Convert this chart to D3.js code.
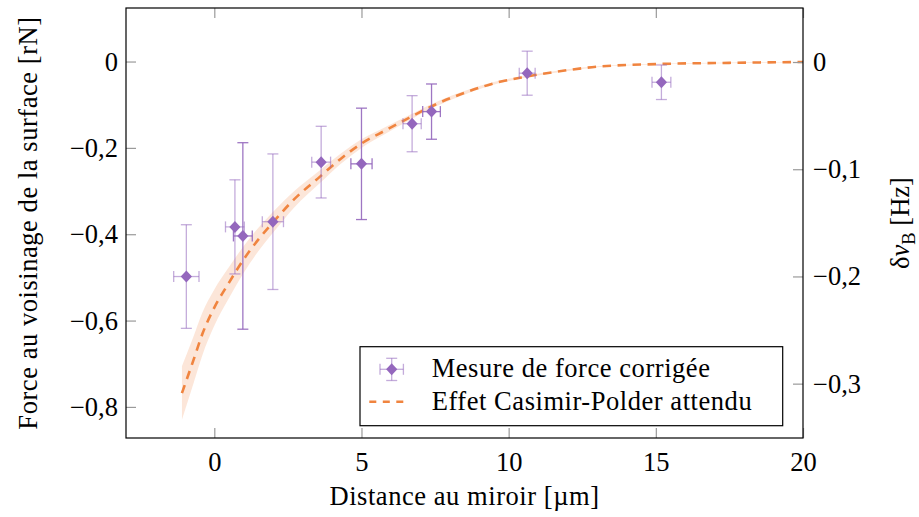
<!DOCTYPE html>
<html>
<head>
<meta charset="utf-8">
<script src="https://cdn.jsdelivr.net/npm/d3@7"></script>
<style>
  html, body { margin: 0; padding: 0; background: #fff; }
</style>
</head>
<body>
<svg id="chart" width="919" height="517"></svg>
<script>
// measured points (distance in µm, force in rN)
const distX    = [-0.95, 0.70, 0.97, 1.99, 3.63, 5.00, 6.72, 7.38, 10.63, 15.19];
const distErr  = [0.43, 0.32, 0.32, 0.36, 0.32, 0.36, 0.31, 0.30, 0.27, 0.32];
const force    = [-0.498, -0.383, -0.404, -0.371, -0.233, -0.237, -0.144, -0.116, -0.027, -0.048];
const forceErr = [0.120, 0.109, 0.216, 0.157, 0.083, 0.129, 0.065, 0.064, 0.051, 0.040];

// expected Casimir-Polder curve
const theoryX = [-1.1, -0.7, -0.4, 0, 0.5, 1, 1.5, 2, 2.7, 3.6, 4.3, 5, 5.8, 6.6, 7.5, 8.6, 9.7, 10.6, 12, 13, 15, 17.5, 20];
const theoryY = [-0.768, -0.690, -0.630, -0.570, -0.512, -0.458, -0.412, -0.372, -0.320, -0.266, -0.225, -0.190, -0.160, -0.131, -0.100, -0.070, -0.047, -0.035, -0.020, -0.012, -0.006, -0.003, -0.001];
const bandHi  = [-0.706, -0.636, -0.581, -0.528, -0.476, -0.427, -0.385, -0.348, -0.301, -0.251, -0.213, -0.180, -0.152, -0.125, -0.095, -0.066, -0.044, -0.033, -0.018, -0.011, -0.005, -0.002, -0.0005];
const bandLo  = [-0.830, -0.744, -0.679, -0.612, -0.548, -0.489, -0.439, -0.396, -0.339, -0.281, -0.237, -0.200, -0.168, -0.137, -0.105, -0.074, -0.050, -0.037, -0.022, -0.013, -0.007, -0.004, -0.0015];

// tick labels
const xTicks = [0, 5, 10, 15, 20];
const yTicksLeft = [0, -0.2, -0.4, -0.6, -0.8];
const yTicksRight = [0, -0.1, -0.2, -0.3];
const legendLabels = ["Mesure de force corrigée", "Effet Casimir-Polder attendu"];

// styling
const purple = "#9467bd";
const orange = "#f0843f";
const darkBars = [2, 5, 7];   // these error bars show stronger in the original
const fontSize = 26.5;
const spacing = 0.55;         // widen Times a bit toward Computer Modern
const serif = "'Liberation Serif', 'DejaVu Serif', serif";

const svg = d3.select("#chart").attr("font-family", serif);
const pLeft = 126, pRight = 803, pTop = 8, pBottom = 438;

const x = d3.scaleLinear().domain([-3, 20]).range([pLeft, pRight]);
const yL = d3.scaleLinear().domain([-0.872, 0.124]).range([pBottom, pTop]);
const yR = d3.scaleLinear().domain([-0.3507, 0.0504]).range([pBottom, pTop]);

const loc = d3.formatLocale({decimal: ",", thousands: " ", grouping: [3], currency: ["", ""], minus: "\u2212"});
const f1 = loc.format(".1f");
const yFmt = d => d === 0 ? "0" : f1(d);
const xFmt = loc.format("d");

// band + curve
const pts = theoryX.map((v, i) => ({x: v, y: theoryY[i], lo: bandLo[i], hi: bandHi[i]}));

svg.append("path")
    .datum(pts)
    .attr("fill", orange)
    .attr("fill-opacity", 0.2)
    .attr("d", d3.area().curve(d3.curveMonotoneX)
        .x(d => x(d.x)).y0(d => yL(d.lo)).y1(d => yL(d.hi)));

svg.append("path")
    .datum(pts)
    .attr("fill", "none")
    .attr("stroke", orange)
    .attr("stroke-width", 2.6)
    .attr("stroke-dasharray", "8.5,6.5")
    .attr("d", d3.line().curve(d3.curveMonotoneX).x(d => x(d.x)).y(d => yL(d.y)));

// error bars + markers
const meas = distX.map((v, i) => ({x: v, xe: distErr[i], y: force[i], ye: forceErr[i], i}));
const cap = 5.5;

const diamond = (cx, cy) => `M${cx},${cy - 6}L${cx + 5.6},${cy}L${cx},${cy + 6}L${cx - 5.6},${cy}Z`;

function errorMark(g, cx, cy, x0, x1, y0, y1, op) {
    const s = g.append("g")
        .attr("stroke", purple)
        .attr("stroke-opacity", op)
        .attr("stroke-width", 1.3)
        .attr("fill", "none");
    s.append("line").attr("x1", cx).attr("x2", cx).attr("y1", y0).attr("y2", y1);
    s.append("line").attr("x1", cx - cap).attr("x2", cx + cap).attr("y1", y0).attr("y2", y0);
    s.append("line").attr("x1", cx - cap).attr("x2", cx + cap).attr("y1", y1).attr("y2", y1);
    s.append("line").attr("x1", x0).attr("x2", x1).attr("y1", cy).attr("y2", cy);
    s.append("line").attr("x1", x0).attr("x2", x0).attr("y1", cy - cap).attr("y2", cy + cap);
    s.append("line").attr("x1", x1).attr("x2", x1).attr("y1", cy - cap).attr("y2", cy + cap);
    g.append("path").attr("d", diamond(cx, cy)).attr("fill", purple);
}

const marks = svg.append("g");
meas.forEach(d => {
    errorMark(marks, x(d.x), yL(d.y), x(d.x - d.xe), x(d.x + d.xe),
        yL(d.y + d.ye), yL(d.y - d.ye), darkBars.includes(d.i) ? 0.9 : 0.55);
});

// axes
const axisG = svg.append("g").attr("class", "axes");

function styleAxis(g) {
    g.attr("font-family", serif).attr("font-size", fontSize);
    g.select(".domain").remove();
    g.selectAll(".tick line").attr("stroke", "#9a9a9a").attr("stroke-width", 1.2);
    g.selectAll(".tick text").attr("fill", "#000");
}

axisG.append("g").attr("transform", `translate(0,${pBottom})`)
    .call(d3.axisBottom(x).tickValues(xTicks).tickFormat(xFmt).tickSize(-10).tickPadding(14))
    .call(styleAxis);
axisG.append("g").attr("transform", `translate(0,${pTop})`)
    .call(d3.axisTop(x).tickValues(xTicks).tickFormat("").tickSize(-10))
    .call(styleAxis);
axisG.append("g").attr("transform", `translate(${pLeft},0)`)
    .call(d3.axisLeft(yL).tickValues(yTicksLeft).tickFormat(yFmt).tickSize(-10).tickPadding(8))
    .call(styleAxis);
axisG.append("g").attr("transform", `translate(${pRight},0)`)
    .call(d3.axisRight(yR).tickValues(yTicksRight).tickFormat(yFmt).tickSize(-10).tickPadding(10))
    .call(styleAxis);

// frame
svg.append("rect")
    .attr("x", pLeft).attr("y", pTop)
    .attr("width", pRight - pLeft).attr("height", pBottom - pTop)
    .attr("fill", "none").attr("stroke", "#000").attr("stroke-width", 1.2);

// axis titles
svg.append("text")
    .attr("x", (pLeft + pRight) / 2).attr("y", 505)
    .attr("text-anchor", "middle").attr("font-size", fontSize)
    .attr("letter-spacing", spacing)
    .text("Distance au miroir [µm]");

svg.append("text")
    .attr("transform", `translate(36.5,${(pTop + pBottom) / 2}) rotate(-90)`)
    .attr("text-anchor", "middle").attr("font-size", fontSize)
    .attr("letter-spacing", spacing)
    .text("Force au voisinage de la surface [rN]");

const rl = svg.append("text")
    .attr("transform", `translate(909,${(pTop + pBottom) / 2}) rotate(-90)`)
    .attr("text-anchor", "middle").attr("font-size", fontSize);
rl.append("tspan").text("δ");
rl.append("tspan").attr("font-style", "italic").text("ν");
rl.append("tspan").attr("font-size", fontSize * 0.7).attr("dy", "0.3em").text("B");
rl.append("tspan").attr("dy", "-0.21em").text(" [Hz]");

// legend
const lg = svg.append("g");
lg.append("rect")
    .attr("x", 360).attr("y", 346.7).attr("width", 422.7).attr("height", 79)
    .attr("fill", "#fff").attr("stroke", "#000").attr("stroke-width", 1.2);
errorMark(lg, 391.7, 369.3, 380, 403.4, 358.3, 380.5, 0.55);
lg.append("line")
    .attr("x1", 369.3).attr("x2", 409.3).attr("y1", 401.7).attr("y2", 401.7)
    .attr("stroke", orange).attr("stroke-width", 2.6).attr("stroke-dasharray", "7,6.5");
lg.selectAll("text.lab")
    .data(legendLabels)
    .enter().append("text")
    .attr("class", "lab")
    .attr("x", 431.7)
    .attr("y", (d, i) => 376.7 + i * 33.3)
    .attr("font-size", fontSize)
    .attr("letter-spacing", spacing)
    .text(d => d);
</script>
</body>
</html>
